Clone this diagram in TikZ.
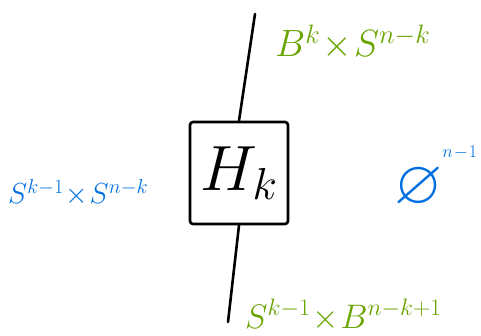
\RequirePackage{fix-cm}
\documentclass[tikz,border=0pt]{standalone}
\usepackage{amssymb}
\usepackage{tikz}
\usetikzlibrary{positioning}

\definecolor{inkgreen}{RGB}{106,164,0}
\definecolor{inkblue}{RGB}{0,112,224}

\begin{document}
\begin{tikzpicture}[x=1pt, y=-1pt,
        wire/.style={draw=black, line width=2.6pt, line cap=round},
        cell/.style={rectangle, draw=black, line width=2.6pt, rounded corners=3pt,
                     minimum width=98pt, minimum height=102pt, inner sep=0pt,
                     font=\fontsize{64}{70}\selectfont},
        glabel/.style={text=inkgreen, font=\fontsize{38}{44}\selectfont,
                       inner sep=0pt, anchor=base west},
        blabel/.style={text=inkblue, font=\fontsize{29}{34}\selectfont,
                       inner sep=0pt, anchor=base west}
    ]
        \useasboundingbox (0,0) rectangle (481,336);

        \node[cell] (hk) at (239,173) {$H_k$};
        \coordinate (top) at (255,14);
        \coordinate (bot) at (228,322);

        \draw[wire] (top) -- (hk.north);
        \draw[wire] (hk.south) -- (bot);

        \node[glabel] (upper) at (275,57) {$B^k\!\times\! S^{n-k}$};
        \node[glabel, font=\fontsize{34}{38}\selectfont] (lower) at (245,328) {$S^{k-1}\!\times\! B^{n-k+1}$};
        \node[blabel] (left) at (8,204) {$S^{k-1}\!\times\! S^{n-k}$};
        \node[blabel, font=\fontsize{18}{20}\selectfont] (right) at (394,204)
            {{\fontsize{62}{64}\selectfont$\varnothing$}\raisebox{46pt}{$n\!-\!1$}};
\end{tikzpicture}
\end{document}
